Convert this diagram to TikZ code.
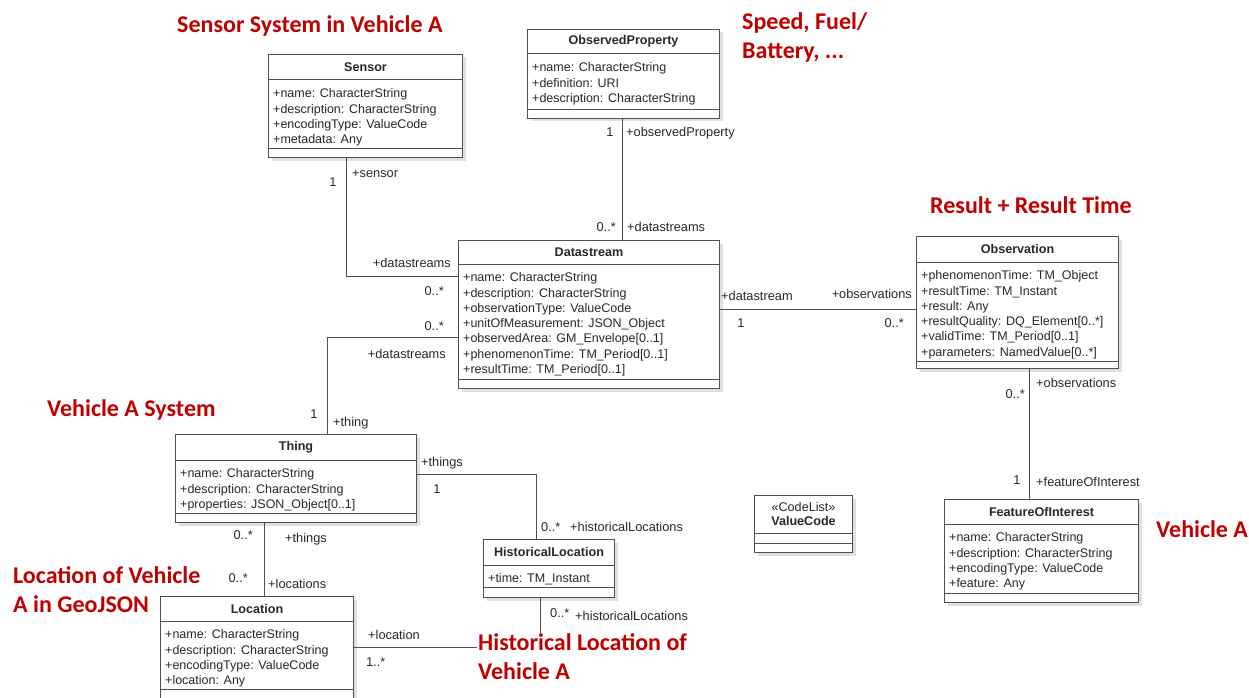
\documentclass[tikz,border=0pt]{standalone}
\usepackage{fontspec}
\setmainfont{Liberation Sans}
\newfontfamily\redfont{Carlito}
\usetikzlibrary{shadows}
\definecolor{redlab}{RGB}{192,0,0}
\definecolor{linec}{RGB}{80,80,80}
\definecolor{txtc}{RGB}{40,40,40}
\tikzset{
  classbox/.style={draw=linec, line width=1pt, fill=white, anchor=north west, inner sep=0pt,
    drop shadow={shadow xshift=3pt, shadow yshift=-3pt, fill=black, opacity=0.12}},
  sepline/.style={draw=linec, line width=1pt},
  conn/.style={draw=linec, line width=1pt},
  ctitle/.style={anchor=north, inner sep=0pt, align=center, font=\fontsize{12.6}{14}\selectfont\bfseries, text=txtc},
  attrs/.style={anchor=north west, inner sep=0pt, align=left, font=\fontsize{12.5}{15.3}\selectfont, text=txtc},
  lab/.style={inner sep=0pt, font=\fontsize{12.8}{14}\selectfont, text=txtc},
  redlabel/.style={inner sep=1pt, align=left, anchor=west, font=\redfont\bfseries\fontsize{24}{29}\selectfont, text=redlab},
}
\newcommand{\umlclass}[9]{%
  \node[classbox, minimum width=#4pt, minimum height=#5pt] (#1) at (#2,#3) {};
  \draw[sepline] ([yshift=-#6pt]#1.north west) -- ([yshift=-#6pt]#1.north east);
  \draw[sepline] ([yshift=-#7pt]#1.north west) -- ([yshift=-#7pt]#1.north east);
  \node[ctitle, minimum height=#6pt] (#1-title) at (#1.north) {#8};
  \node[attrs] (#1-attrs) at ([xshift=5pt, yshift={-#6pt-8.5pt}]#1.north west) {#9};
}
\begin{document}
\begin{tikzpicture}[x=1pt, y=-1pt]
\useasboundingbox (0,0) rectangle (1249,698);

% classes
\umlclass{Sensor}{268}{54}{194}{103}{26}{94}{Sensor}{+name: CharacterString\\+description: CharacterString\\+encodingType: ValueCode\\+metadata: Any}
\umlclass{ObservedProperty}{527}{29}{192}{89}{25}{81}{ObservedProperty}{+name: CharacterString\\+definition: URI\\+description: CharacterString}
\umlclass{Datastream}{458}{240}{261}{148}{24}{139}{Datastream}{+name: CharacterString\\+description: CharacterString\\+observationType: ValueCode\\+unitOfMeasurement: JSON\_Object\\+observedArea: GM\_Envelope[0..1]\\+phenomenonTime: TM\_Period[0..1]\\+resultTime: TM\_Period[0..1]}
\umlclass{Observation}{916}{236}{202}{132}{26}{125}{Observation}{+phenomenonTime: TM\_Object\\+resultTime: TM\_Instant\\+result: Any\\+resultQuality: DQ\_Element[0..*]\\+validTime: TM\_Period[0..1]\\+parameters: NamedValue[0..*]}
\umlclass{FeatureOfInterest}{944}{499}{194}{103}{25}{94}{FeatureOfInterest}{+name: CharacterString\\+description: CharacterString\\+encodingType: ValueCode\\+feature: Any}
\umlclass{Thing}{175}{434}{241}{88}{26}{79}{Thing}{+name: CharacterString\\+description: CharacterString\\+properties: JSON\_Object[0..1]}
\umlclass{HistoricalLocation}{483}{539}{131}{58}{26}{48}{HistoricalLocation}{+time: TM\_Instant}
\umlclass{Location}{160}{596}{193}{112}{25}{93}{Location}{+name: CharacterString\\+description: CharacterString\\+encodingType: ValueCode\\+location: Any}
\umlclass{ValueCode}{754}{495}{98}{57}{38}{48}{{\mdseries «CodeList»}\\ValueCode}{}

% connector anchor points
\coordinate (snb) at ([xshift=78pt]Sensor.south west);
\coordinate (dsl1) at ([yshift=-36pt]Datastream.north west);
\coordinate (opb) at ([xshift=95pt]ObservedProperty.south west);
\coordinate (dsr) at ([yshift=-69pt]Datastream.north east);
\coordinate (tht) at ([xshift=152pt]Thing.north west);
\coordinate (dsl2) at ([yshift=-97pt]Datastream.north west);
\coordinate (obsb) at ([xshift=113pt]Observation.south west);
\coordinate (thr) at ([yshift=-40pt]Thing.north east);
\coordinate (hlt) at ([xshift=53pt]HistoricalLocation.north west);
\coordinate (hlb) at ([xshift=57pt]HistoricalLocation.south west);
\coordinate (locr) at ([yshift=-51pt]Location.north east);
\coordinate (thb) at ([xshift=89pt]Thing.south west);

% connectors
\draw[conn] (snb) |- (dsl1);
\draw[conn] (opb) -- (opb |- Datastream.north);
\draw[conn] (dsr) -- (dsr -| Observation.west);
\draw[conn] (tht) |- (dsl2);
\draw[conn] (obsb) -- (obsb |- FeatureOfInterest.north);
\draw[conn] (thr) -| (hlt);
\draw[conn] (hlb) |- (locr);
\draw[conn] (thb) -- (thb |- Location.north);

% role / multiplicity labels
\node[lab] (l1) at (333,182) {1};
\node[lab, anchor=west] (l2) at (352,174) {+sensor};
\node[lab, anchor=east] (l3) at (451,263) {+datastreams};
\node[lab, anchor=east] (l4) at (444,291) {0..*};
\node[lab] (l5) at (610,132) {1};
\node[lab, anchor=west] (l6) at (626,133) {+observedProperty};
\node[lab, anchor=east] (l7) at (616,227) {0..*};
\node[lab, anchor=west] (l8) at (627,227) {+datastreams};
\node[lab, anchor=east] (l9) at (444,326) {0..*};
\node[lab, anchor=east] (l10) at (446,354) {+datastreams};
\node[lab, anchor=west] (l11) at (721,296) {+datastream};
\node[lab, anchor=east] (l12) at (912,294) {+observations};
\node[lab] (l13) at (741,323) {1};
\node[lab, anchor=east] (l14) at (904,323) {0..*};
\node[lab, anchor=east] (l15) at (1025,394) {0..*};
\node[lab, anchor=west] (l16) at (1036,383) {+observations};
\node[lab] (l17) at (1017,480) {1};
\node[lab, anchor=west] (l18) at (1036,482) {+featureOfInterest};
\node[lab] (l19) at (314,414) {1};
\node[lab, anchor=west] (l20) at (333,423) {+thing};
\node[lab, anchor=west] (l21) at (421,463) {+things};
\node[lab] (l22) at (437,489) {1};
\node[lab, anchor=west] (l23) at (541,527) {0..*};
\node[lab, anchor=west] (l24) at (570,527) {+historicalLocations};
\node[lab, anchor=west] (l25) at (550,613) {0..*};
\node[lab, anchor=west] (l26) at (575,616) {+historicalLocations};
\node[lab, anchor=west] (l27) at (368,635) {+location};
\node[lab, anchor=west] (l28) at (366,662) {1..*};
\node[lab, anchor=east] (l29) at (253,535) {0..*};
\node[lab, anchor=west] (l30) at (285,539) {+things};
\node[lab, anchor=east] (l31) at (248,578) {0..*};
\node[lab, anchor=west] (l32) at (268,584) {+locations};

% red annotations
\node[redlabel] (r1) at (176,26) {Sensor System in Vehicle A};
\node[redlabel] (r2) at (741,37) {Speed, Fuel/\\Battery, ...};
\node[redlabel] (r3) at (929,205) {Result + Result Time};
\node[redlabel] (r4) at (46,410) {Vehicle A System};
\node[redlabel] (r5) at (12,590) {Location of Vehicle\\A in GeoJSON};
\node[redlabel] (r6) at (1155,529) {Vehicle A};
\node[redlabel, fill=white] (r7) at (477,657) {Historical Location of\\Vehicle A};
\end{tikzpicture}
\end{document}
